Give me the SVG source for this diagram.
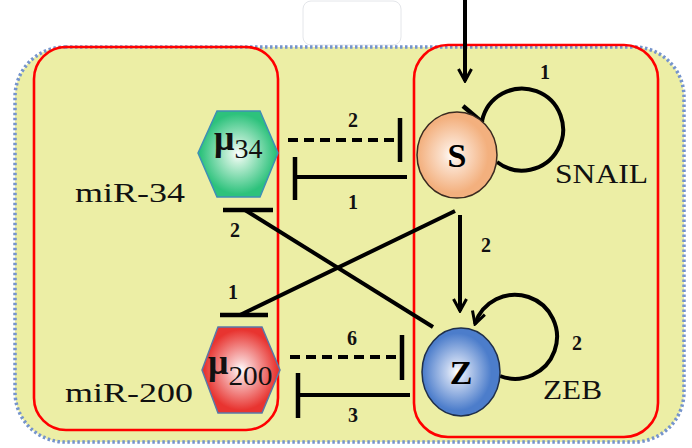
<svg xmlns="http://www.w3.org/2000/svg" width="692" height="448" viewBox="0 0 692 448">
<style>
.edge{stroke:#000;stroke-width:4;fill:none}
.dash{stroke-dasharray:10 6}
.tee{stroke:#000;stroke-width:4.5}
.lbl{font-family:"Liberation Serif","DejaVu Serif",serif;font-weight:bold;font-size:20px;fill:#111;text-anchor:middle}
.name{font-family:"Liberation Serif","DejaVu Serif",serif;font-size:27px;fill:#111}
.box{fill:none;stroke:#FF0000;stroke-width:2.6}
.letter{font-family:"Liberation Serif","DejaVu Serif",serif;font-weight:bold;font-size:34px;fill:#000;text-anchor:middle}
.mu{font-family:"Liberation Serif","DejaVu Serif",serif;fill:#111}
</style>
<defs>
<marker id="arr" viewBox="0 0 16 16" refX="14" refY="8" markerWidth="16" markerHeight="16" markerUnits="userSpaceOnUse" orient="auto">
<path d="M2,1.5 L14,8 L2,14.5" fill="none" stroke="#000" stroke-width="3"/>
</marker>
<radialGradient id="gS" cx="0.45" cy="0.5" r="0.55"><stop offset="0" stop-color="#fff"/><stop offset="0.25" stop-color="#FBE0CC"/><stop offset="0.8" stop-color="#F3B07E"/></radialGradient>
<radialGradient id="gZ" cx="0.45" cy="0.5" r="0.55"><stop offset="0" stop-color="#fff"/><stop offset="0.25" stop-color="#BFD0EE"/><stop offset="0.8" stop-color="#4C7DCB"/></radialGradient>
<radialGradient id="gG" cx="0.5" cy="0.5" r="0.55"><stop offset="0" stop-color="#fff"/><stop offset="0.2" stop-color="#C8F0DA"/><stop offset="0.85" stop-color="#2DC27C"/></radialGradient>
<radialGradient id="gR" cx="0.5" cy="0.5" r="0.55"><stop offset="0" stop-color="#fff"/><stop offset="0.2" stop-color="#F8C8C8"/><stop offset="0.85" stop-color="#E83430"/></radialGradient>
</defs>
<rect width="692" height="448" fill="#fff"/>
<rect x="303" y="1" width="98" height="44" rx="8" fill="#fff" stroke="#E4E6EA" stroke-width="1"/>
<rect id="cell" x="15" y="47" width="669" height="395" rx="50" fill="#ECEEA5" stroke="#7594CC" stroke-width="3.5" stroke-dasharray="2.5 2.5"/>
<g id="groups">
<rect id="mirna-box" class="box" x="34" y="47" width="244" height="383" rx="32"/>
<rect id="tf-box" class="box" x="414" y="45" width="244" height="392" rx="34"/>
</g>
<g id="connectors">
<line class="edge" x1="465" y1="0" x2="465" y2="81" marker-end="url(#arr)"/>
<path class="edge" d="M482,121 A41,41 0 1 1 497,162"/>
<line class="tee" x1="463" y1="106" x2="483" y2="123"/>
<line class="edge" x1="460" y1="215" x2="460" y2="311" marker-end="url(#arr)"/>
<path class="edge" d="M500,376 A42,42 0 1 0 475,324" marker-end="url(#arr)"/>
<line class="edge dash" x1="288" y1="140" x2="400" y2="140"/>
<line class="tee" x1="400" y1="118" x2="400" y2="162"/>
<line class="edge" x1="407" y1="177" x2="295" y2="177"/>
<line class="tee" x1="295" y1="157" x2="295" y2="200"/>
<line class="edge dash" x1="290" y1="357" x2="402" y2="357"/>
<line class="tee" x1="402" y1="335" x2="402" y2="380"/>
<line class="edge" x1="410" y1="395" x2="298" y2="395"/>
<line class="tee" x1="298" y1="373" x2="298" y2="418"/>
<line class="edge" x1="433" y1="327" x2="245" y2="210"/>
<line class="tee" x1="223" y1="210" x2="273" y2="210"/>
<line class="edge" x1="455" y1="211" x2="240" y2="315"/>
<line class="tee" x1="220" y1="315" x2="268" y2="315"/>
<text class="lbl" x="545" y="79">1</text>
<text class="lbl" x="486" y="252">2</text>
<text class="lbl" x="577" y="350">2</text>
<text class="lbl" x="353" y="127">2</text>
<text class="lbl" x="353" y="209">1</text>
<text class="lbl" x="352" y="345">6</text>
<text class="lbl" x="353" y="422">3</text>
<text class="lbl" x="235" y="237">2</text>
<text class="lbl" x="233" y="299">1</text>
</g>
<g id="S">
<ellipse cx="457" cy="155" rx="40" ry="43" fill="url(#gS)" stroke="#3A2A20" stroke-width="1.5"/>
<text class="letter" x="457" y="167">S</text>
<text class="name" x="555" y="183" textLength="93" lengthAdjust="spacingAndGlyphs">SNAIL</text>
</g>
<g id="Z">
<ellipse cx="461" cy="372" rx="39" ry="44" fill="url(#gZ)" stroke="#1F2F4A" stroke-width="1.5"/>
<text class="letter" x="461" y="384">Z</text>
<text class="name" x="543" y="399" textLength="59" lengthAdjust="spacingAndGlyphs">ZEB</text>
</g>
<g id="mu34">
<polygon points="198,153 217,111 260,111 278,153 260,197 217,197" fill="url(#gG)" stroke="#3F8FB5" stroke-width="1.5"/>
<text class="mu" x="214" y="150" font-size="36" font-weight="bold">μ<tspan font-size="28" font-weight="normal" dy="8">34</tspan></text>
<text class="name" x="75" y="202" textLength="110" lengthAdjust="spacingAndGlyphs">miR-34</text>
</g>
<g id="mu200">
<polygon points="202,370 218,327 262,327 280,370 262,413 218,413" fill="url(#gR)" stroke="#5A78A8" stroke-width="1.5"/>
<text class="mu" x="208" y="374" font-size="36" font-weight="bold">μ<tspan font-size="28" font-weight="normal" dy="11" textLength="44" lengthAdjust="spacingAndGlyphs">200</tspan></text>
<text class="name" x="65" y="402" textLength="128" lengthAdjust="spacingAndGlyphs">miR-200</text>
</g>
</svg>
